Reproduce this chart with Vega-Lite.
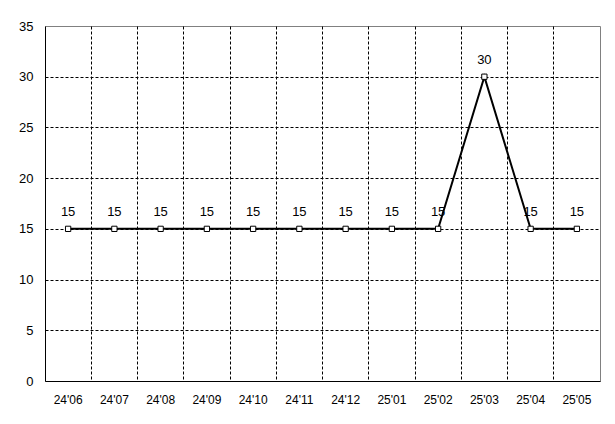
{
  "$schema": "https://vega.github.io/schema/vega-lite/v6.json",
  "width": 555,
  "height": 355,
  "autosize": {"type": "none"},
  "padding": {"left": 45, "top": 26, "right": 15, "bottom": 43},
  "background": "white",
  "config": {
    "view": {"stroke": "#808080", "strokeWidth": 1},
    "font": "Liberation Sans"
  },
  "data": {
    "values": [
      {"month": "24'06", "value": 15},
      {"month": "24'07", "value": 15},
      {"month": "24'08", "value": 15},
      {"month": "24'09", "value": 15},
      {"month": "24'10", "value": 15},
      {"month": "24'11", "value": 15},
      {"month": "24'12", "value": 15},
      {"month": "25'01", "value": 15},
      {"month": "25'02", "value": 15},
      {"month": "25'03", "value": 30},
      {"month": "25'04", "value": 15},
      {"month": "25'05", "value": 15}
    ]
  },
  "encoding": {
    "x": {
      "field": "month",
      "type": "ordinal",
      "sort": null,
      "scale": {"type": "band", "paddingInner": 0, "paddingOuter": 0},
      "axis": {
        "title": null,
        "labelAngle": 0,
        "labelFont": "Liberation Sans",
        "labelFontSize": 12,
        "labelColor": "black",
        "labelPadding": 13,
        "ticks": false,
        "tickSize": 0,
        "bandPosition": 0,
        "domainColor": "black",
        "domainWidth": 1,
        "grid": true,
        "gridColor": "black",
        "gridDash": [3, 2],
        "gridWidth": 1,
        "gridOpacity": {"condition": {"test": "datum.value === \"24'06\"", "value": 0}, "value": 1}
      }
    },
    "y": {
      "field": "value",
      "type": "quantitative",
      "scale": {"domain": [0, 35], "nice": false, "zero": true},
      "axis": {
        "title": null,
        "values": [0, 5, 10, 15, 20, 25, 30, 35],
        "labelFont": "Liberation Sans",
        "labelFontSize": 13,
        "labelColor": "black",
        "labelPadding": 12,
        "ticks": false,
        "tickSize": 0,
        "domainColor": "black",
        "domainWidth": 1,
        "grid": true,
        "gridColor": "black",
        "gridDash": [3, 2],
        "gridWidth": 1,
        "gridOpacity": {"condition": {"test": "datum.value === 0 || datum.value === 35", "value": 0}, "value": 1}
      }
    }
  },
  "layer": [
    {
      "mark": {"type": "line", "color": "black", "strokeWidth": 2}
    },
    {
      "mark": {"type": "point", "shape": "square", "size": 28, "filled": true, "fill": "white", "stroke": "black", "strokeWidth": 1, "opacity": 1}
    },
    {
      "mark": {"type": "text", "dy": -17, "baseline": "middle", "align": "center", "font": "Liberation Sans", "fontSize": 13, "color": "black"},
      "encoding": {"text": {"field": "value", "type": "quantitative"}}
    }
  ]
}
